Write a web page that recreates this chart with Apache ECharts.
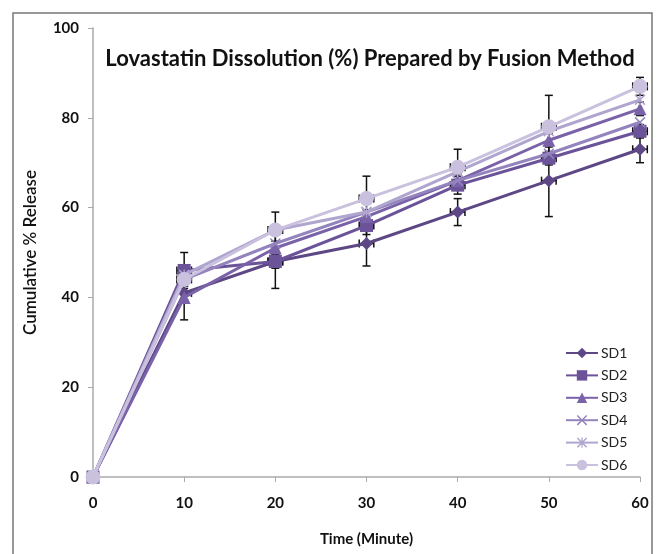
<!DOCTYPE html>
<html>
<head>
<meta charset="utf-8">
<script src="https://cdn.jsdelivr.net/npm/echarts@6/dist/echarts.min.js"></script>
<style>
html, body { margin: 0; padding: 0; background: #fff; }
#chart { width: 662px; height: 554px; }
</style>
</head>
<body>
<div id="chart"></div>
<script>
// time points (minutes)
var times = [0, 10, 20, 30, 40, 50, 60];

// cumulative % release per formulation
var sd1 = [0, 41, 48, 52, 59, 66, 73];
var sd2 = [0, 46, 48, 56, 65, 71, 77];
var sd3 = [0, 40, 51, 58, 66, 75, 82];
var sd4 = [0, 44, 52, 59, 66, 72, 79];
var sd5 = [0, 45, 55, 59, 68, 77, 84];
var sd6 = [0, 44, 55, 62, 69, 78, 87];

// standard deviations (vertical error bars)
var sd1Err = [0, 1.5, 1.5, 5, 3, 8, 3];
var sd2Err = [0, 4, 6, 2, 2, 1.5, 1.5];
var sd3Err = [0, 5, 1.5, 1.5, 1.5, 1.5, 1.5];
var sd4Err = [0, 0, 0, 0, 0, 0, 0];
var sd5Err = [0, 0, 0, 0, 0, 0, 0];
var sd6Err = [0, 1.5, 4, 5, 4, 7, 2];

// horizontal error (minutes)
var timeErr = [0.4, 0.8, 0.8, 0.8, 0.8, 0.8, 0.8];

var names = ['SD1', 'SD2', 'SD3', 'SD4', 'SD5', 'SD6'];
var values = [sd1, sd2, sd3, sd4, sd5, sd6];
var errors = [sd1Err, sd2Err, sd3Err, sd4Err, sd5Err, sd6Err];
var showTimeErr = [true, true, false, false, false, true];
var colors = ['#5d4785', '#6b5399', '#7a62a9', '#9484bd', '#b0a5cf', '#c9c1de'];
var symbols = [
	'diamond',
	'rect',
	'triangle',
	'path://M1,0L5,4L9,0L10,1L6,5L10,9L9,10L5,6L1,10L0,9L4,5L0,1Z',
	'path://M1,0L5,4L9,0L10,1L6,5L10,9L9,10L5,6L1,10L0,9L4,5L0,1Z M4.4,0L5.6,0L5.6,10L4.4,10Z',
	'circle'
];
var symbolSizes = [13, 13, 13, 11, 11, 15];

var series = [];
names.forEach(function(name, i) {
	series.push({
		name: name,
		type: 'line',
		data: times.map(function(t, j) { return [t, values[i][j]]; }),
		symbol: symbols[i],
		symbolSize: symbolSizes[i],
		showAllSymbol: true,
		lineStyle: { color: colors[i], width: 3 },
		itemStyle: { color: colors[i] },
		z: 3 + i
	});
});

// error bars drawn by a custom series
var errData = [];
names.forEach(function(name, i) {
	times.forEach(function(t, j) {
		errData.push([t, values[i][j], errors[i][j], showTimeErr[i] ? timeErr[j] : 0]);
	});
});

series.push({
	type: 'custom',
	name: 'err',
	data: errData,
	z: 2,
	silent: true,
	renderItem: function(params, api) {
		var x = api.value(0), y = api.value(1), e = api.value(2), xe = api.value(3);
		var style = { stroke: '#111', lineWidth: 1.5 };
		var children = [];
		var cap = 4;
		if (e > 0) {
			var top = api.coord([x, y + e]);
			var bot = api.coord([x, y - e]);
			children.push({ type: 'line', shape: { x1: top[0], y1: top[1], x2: bot[0], y2: bot[1] }, style: style });
			children.push({ type: 'line', shape: { x1: top[0] - cap, y1: top[1], x2: top[0] + cap, y2: top[1] }, style: style });
			children.push({ type: 'line', shape: { x1: bot[0] - cap, y1: bot[1], x2: bot[0] + cap, y2: bot[1] }, style: style });
		}
		if (xe > 0) {
			var l = api.coord([Math.max(0, x - xe), y]);
			var r = api.coord([x + xe, y]);
			children.push({ type: 'line', shape: { x1: l[0], y1: l[1], x2: r[0], y2: r[1] }, style: style });
			if (x - xe >= 0) {
				children.push({ type: 'line', shape: { x1: l[0], y1: l[1] - cap, x2: l[0], y2: l[1] + cap }, style: style });
			}
			children.push({ type: 'line', shape: { x1: r[0], y1: r[1] - cap, x2: r[0], y2: r[1] + cap }, style: style });
		}
		return { type: 'group', children: children };
	}
});

var myChart = echarts.init(document.getElementById('chart'));
var option = {
	backgroundColor: '#fff',
	animation: false,
	textStyle: { fontFamily: 'Lato, "Liberation Sans", sans-serif' },
	title: {
		text: 'Lovastatin Dissolution (%) Prepared by Fusion Method',
		left: 365,
		top: 43,
		textAlign: 'center',
		textStyle: { fontSize: 22, fontWeight: 'bold', color: '#111', fontFamily: 'Lato, sans-serif' }
	},
	legend: {
		data: names,
		orient: 'vertical',
		left: 560,
		top: 341,
		itemWidth: 32,
		itemHeight: 13,
		itemGap: 8.4,
		textStyle: { fontSize: 14, color: '#222', padding: [0, 0, 0, -2] }
	},
	grid: { left: 93, right: 22, top: 28, bottom: 77 },
	xAxis: {
		type: 'value',
		min: 0, max: 60, interval: 10,
		name: 'Time (Minute)',
		nameLocation: 'middle',
		nameGap: 55,
		nameTextStyle: { fontSize: 15, fontWeight: 'bold', color: '#111' },
		axisLine: { lineStyle: { color: '#aaa', width: 1.5 } },
		axisTick: { lineStyle: { color: '#aaa' }, length: 5 },
		axisLabel: { fontSize: 15, fontWeight: 'bold', color: '#111', margin: 19 },
		splitLine: { show: false }
	},
	yAxis: {
		type: 'value',
		min: 0, max: 100, interval: 20,
		name: 'Cumulative % Release',
		nameLocation: 'middle',
		nameGap: 54,
		nameTextStyle: { fontSize: 17, fontWeight: 600, color: '#111' },
		axisLine: { show: true, lineStyle: { color: '#aaa', width: 1.5 } },
		axisTick: { show: true, lineStyle: { color: '#aaa' }, length: 5 },
		axisLabel: { fontSize: 15, fontWeight: 'bold', color: '#111', margin: 14 },
		splitLine: { show: false }
	},
	graphic: [{
		type: 'rect',
		shape: { x: 13, y: 13, width: 639, height: 560 },
		style: { fill: 'none', stroke: '#777', lineWidth: 1.5 },
		silent: true
	}],
	series: series
};
myChart.setOption(option);
</script>
</body>
</html>
